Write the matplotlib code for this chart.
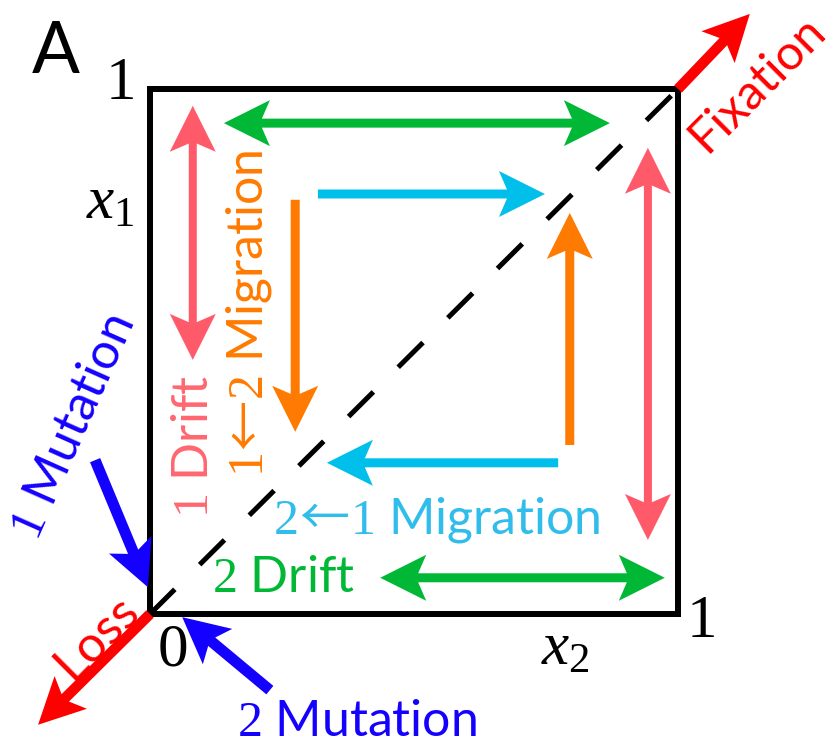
import numpy as np
import matplotlib
matplotlib.use("Agg")
import matplotlib.pyplot as plt
from matplotlib.patches import Polygon

plt.rcParams["mathtext.fontset"] = "custom"
plt.rcParams["mathtext.rm"] = "Liberation Serif"
plt.rcParams["mathtext.it"] = "Liberation Serif:italic"
plt.rcParams["mathtext.bf"] = "Liberation Serif:bold"
# long, thin arrow glyph for the migration labels
plt.rcParams["mathtext.sf"] = "Noto Sans CJK JP"

SANS = "Lato"

# Colours for each evolutionary process
C_FIX = "#FF0000"
C_MUT = "#1400FF"
C_DRIFT2 = "#00B836"
C_DRIFT1 = "#FF5A6A"
C_MIG12 = "#FF7A00"
C_MIG21 = "#00BFEA"

# State space: x2 on the horizontal axis, x1 on the vertical axis (unit square)
box_x = [0, 1, 1, 0, 0]
box_y = [0, 0, 1, 1, 0]
diag_x = [0, 1]
diag_y = [0, 1]

# Arrow segments ((x2_start, x1_start), (x2_end, x1_end))
drift2_double = [((0.140, 0.935), (0.871, 0.935)),
                 ((0.436, 0.069), (0.975, 0.069))]
drift1_double = [((0.081, 0.968), (0.081, 0.484)),
                 ((0.943, 0.888), (0.943, 0.141))]
mig21_single = [((0.318, 0.800), (0.748, 0.800)),
                ((0.773, 0.288), (0.335, 0.288))]
mig12_single = [((0.275, 0.789), (0.275, 0.347)),
                ((0.795, 0.322), (0.795, 0.764))]
fixation_arrow = ((1.0, 1.0), (1.136, 1.143))
loss_arrow = ((0.0, 0.0), (-0.212, -0.211))
mutation1_arrow = ((-0.104, 0.293), (-0.004, 0.051))
mutation2_arrow = ((0.227, -0.145), (0.061, -0.006))

fig = plt.figure(figsize=(8.33, 7.47), dpi=100)
ax = fig.add_axes([150 / 833, 133 / 747, 528 / 833, 525 / 747])
ax.set_xlim(0, 1)
ax.set_ylim(0, 1)
ax.axis("off")

PX = 0.72  # points per pixel at 100 dpi

ax.plot(diag_x, diag_y, color="black", lw=5 * PX, ls=(0, (7, 7)),
        dash_capstyle="butt", clip_on=False, zorder=2)
ax.plot(box_x, box_y, color="black", lw=6 * PX, solid_joinstyle="miter",
        clip_on=False, zorder=3)


def arrow(p0, p1, color, shaft=9.0, double=False, head_len=46.0,
          head_w=46.0, notch=10.0):
    """Notched arrow built in display space and mapped back to data."""
    a = ax.transData.transform(p0)
    b = ax.transData.transform(p1)
    d = b - a
    t = d / np.hypot(*d)
    n = np.array([-t[1], t[0]])
    hw = shaft / 2.0
    joint = (head_len - notch) + notch * (hw / (head_w / 2.0))

    def head(tip, u):
        # outline from the -n side of the shaft, round the head, to the +n side
        return [tip - u * joint - n * hw,
                tip - u * head_len - n * head_w / 2,
                tip,
                tip - u * head_len + n * head_w / 2,
                tip - u * joint + n * hw]

    pts = head(b, t)
    if double:
        pts = pts + head(a, -t)[::-1]
    else:
        pts = pts + [a + n * hw, a - n * hw]
    data = ax.transData.inverted().transform(np.array(pts))
    ax.add_patch(Polygon(data, closed=True, facecolor=color, edgecolor="none",
                         clip_on=False, zorder=4))


for s, e in drift2_double:
    arrow(s, e, C_DRIFT2, shaft=9, double=True)
for s, e in drift1_double:
    arrow(s, e, C_DRIFT1, shaft=8, double=True)
for s, e in mig21_single:
    arrow(s, e, C_MIG21, shaft=9)
for s, e in mig12_single:
    arrow(s, e, C_MIG12, shaft=9)
arrow(*fixation_arrow, C_FIX, shaft=10.5)
arrow(*loss_arrow, C_FIX, shaft=10.5)
arrow(*mutation1_arrow, C_MUT, shaft=11)
arrow(*mutation2_arrow, C_MUT, shaft=11)

FS = 36
FS_NUM = 44

# Panel letter and axis labels
ax.text(-0.178, 1.070, "A", fontsize=51, family=SANS, ha="center",
        va="center", clip_on=False)
ax.text(-0.057, 1.013, "$1$", fontsize=FS_NUM, ha="center", va="center")
ax.text(-0.076, 0.754, "$x_1$", fontsize=FS_NUM, ha="center", va="baseline")
ax.text(0.042, -0.067, "$0$", fontsize=FS_NUM, ha="center", va="center")
ax.text(1.042, -0.013, "$1$", fontsize=FS_NUM, ha="center", va="center")
ax.text(0.786, -0.097, "$x_2$", fontsize=FS_NUM, ha="center", va="baseline")

# Process labels
ax.text(1.150, 1.011, "Fixation", fontsize=35, family=SANS, color=C_FIX,
        rotation=45, rotation_mode="anchor", ha="center", va="center")
ax.text(-0.100, -0.044, "Loss", fontsize=FS, family=SANS, color=C_FIX,
        rotation=45, rotation_mode="anchor", ha="center", va="center")
ax.text(-0.146, 0.356, r"$\mathit{1}$ Mutation", fontsize=FS, family=SANS,
        color=C_MUT, rotation=66, rotation_mode="anchor", ha="center",
        va="center")
ax.text(0.392, -0.206, "$2$ Mutation", fontsize=FS, family=SANS,
        color=C_MUT, ha="center", va="center")
ax.text(0.110, 0.320, "$1$ Drift", fontsize=FS, family=SANS, color="#FF6670",
        rotation=90, rotation_mode="anchor", ha="center", va="baseline")
ax.text(0.214, 0.573, r"$1\!\mathsf{\leftarrow}\!2$ Migration", fontsize=FS,
        family=SANS, color=C_MIG12, rotation=90, rotation_mode="anchor",
        ha="center", va="baseline")
ax.text(0.544, 0.154, r"$2\!\mathsf{\leftarrow}\!1$ Migration", fontsize=FS,
        family=SANS, color="#30BDEB", ha="center", va="baseline")
ax.text(0.252, 0.042, "$2$ Drift", fontsize=FS, family=SANS, color=C_DRIFT2,
        ha="center", va="baseline")

fig.savefig("out.png", dpi=100, facecolor="white")
